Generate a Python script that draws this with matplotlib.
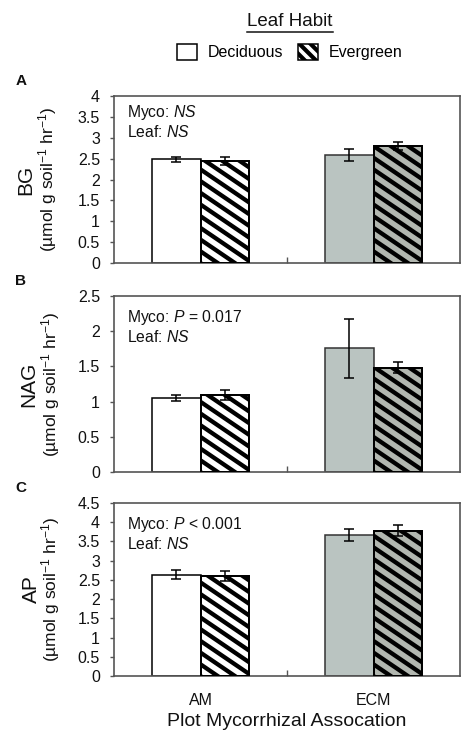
import numpy as np
import matplotlib
matplotlib.use("Agg")
import matplotlib.pyplot as plt
from matplotlib.patches import Patch, Rectangle
from matplotlib.collections import LineCollection
from matplotlib.lines import Line2D

plt.rcParams["font.family"] = ["Liberation Sans", "DejaVu Sans"]
plt.rcParams["mathtext.fontset"] = "custom"
plt.rcParams["mathtext.rm"] = "Liberation Sans"
plt.rcParams["mathtext.it"] = "Liberation Sans:italic"
plt.rcParams["hatch.linewidth"] = 3.0

# data
categories = ["AM", "ECM"]
habits = ["Deciduous", "Evergreen"]
panel_letters = ["A", "B", "C"]
enzymes = ["BG", "NAG", "AP"]
stats_text = [
    ["Myco: $\\mathit{NS}$", "Leaf: $\\mathit{NS}$"],
    ["Myco: $\\mathit{P}$ = 0.017", "Leaf: $\\mathit{NS}$"],
    ["Myco: $\\mathit{P}$ < 0.001", "Leaf: $\\mathit{NS}$"],
]
y_max = [4, 2.5, 4.5]
y_step = [0.5, 0.5, 0.5]

# means / SE: [AM, ECM]
bg_dec = [2.49, 2.59]
bg_dec_se = [0.06, 0.15]
bg_eve = [2.44, 2.80]
bg_eve_se = [0.09, 0.09]

nag_dec = [1.05, 1.76]
nag_dec_se = [0.04, 0.42]
nag_eve = [1.09, 1.48]
nag_eve_se = [0.07, 0.08]

ap_dec = [2.64, 3.67]
ap_dec_se = [0.11, 0.16]
ap_eve = [2.60, 3.78]
ap_eve_se = [0.14, 0.15]

dec_means = [bg_dec, nag_dec, ap_dec]
dec_ses = [bg_dec_se, nag_dec_se, ap_dec_se]
eve_means = [bg_eve, nag_eve, ap_eve]
eve_ses = [bg_eve_se, nag_eve_se, ap_eve_se]

DPI = 100
W, H = 474, 746
fig = plt.figure(figsize=(W / DPI, H / DPI), dpi=DPI)

# axes boxes in pixels: (top, bottom)
boxes = [(96, 263), (296, 472), (503, 676)]
ax_left, ax_right = 114, 460
ylab_x = [(26, 48), (29, 51), (31, 51)]

AM_FILL = "white"
ECM_FILL = "#bac4c1"
ECM_HATCH_FILL = "#b2b7b0"
SPINE = "#555555"
BAR_W = 0.283


def add_stripes(ax, bar, spacing=11.7, slope=0.68, lw_px=4.3):
    """Thick diagonal stripes drawn in pixel space, clipped to the bar."""
    (x0, y0), (x1, y1) = ax.transData.transform(
        [(bar.get_x(), bar.get_y()), (bar.get_x() + bar.get_width(), bar.get_y() + bar.get_height())])
    w = x1 - x0
    segs = []
    c = y0 - 2 * spacing
    while c < y1 + slope * w + 2 * spacing:
        p = np.array([(x0 - 5, c + slope * 5), (x1 + 5, c - slope * (w + 5))])
        segs.append(ax.transData.inverted().transform(p))
        c += spacing
    lc = LineCollection(segs, colors="black", linewidths=lw_px * 72 / DPI, zorder=3)
    ax.add_collection(lc, autolim=False)
    lc.set_clip_path(bar)


x = np.arange(len(categories))
for i in range(3):
    top, bot = boxes[i]
    ax = fig.add_axes([ax_left / W, 1 - bot / H, (ax_right - ax_left) / W, (bot - top) / H])
    ax.set_xlim(-0.5, 1.5)
    ax.set_ylim(0, y_max[i])

    dec_bars = ax.bar(x - BAR_W / 2, dec_means[i], BAR_W, color=[AM_FILL, ECM_FILL],
                      edgecolor=["black", "#333333"], linewidth=1.1, zorder=2)
    eve_bars = ax.bar(x + BAR_W / 2, eve_means[i], BAR_W, color=[AM_FILL, ECM_HATCH_FILL],
                      edgecolor="black", linewidth=1.1, zorder=2)
    for b in eve_bars:
        add_stripes(ax, b)
    # redraw edges on top of stripes
    for b in eve_bars:
        ax.add_patch(Rectangle((b.get_x(), b.get_y()), b.get_width(), b.get_height(),
                               fill=False, edgecolor="black", linewidth=1.4, zorder=4))

    ax.errorbar(x - BAR_W / 2, dec_means[i], yerr=dec_ses[i], fmt="none", ecolor="black",
                elinewidth=1.1, capsize=3.5, capthick=1.1, zorder=5)
    ax.errorbar(x + BAR_W / 2, eve_means[i], yerr=eve_ses[i], fmt="none", ecolor="black",
                elinewidth=1.1, capsize=3.5, capthick=1.1, zorder=5)

    for s in ax.spines.values():
        s.set_color(SPINE)
        s.set_linewidth(1.2)

    yt = np.arange(0, y_max[i] + 1e-9, y_step[i])
    ax.set_yticks(yt)
    ax.set_yticklabels([f"{v:g}" for v in yt])
    ax.tick_params(axis="y", direction="out", length=3, width=1, color=SPINE, pad=7,
                   labelsize=11.5, labelcolor="#111111")
    ax.set_xticks([0.5])
    ax.set_xticklabels([])
    ax.tick_params(axis="x", which="major", direction="in", length=4, width=1, color=SPINE)
    if i == 2:
        ax.set_xticks(x, minor=True)
        ax.set_xticklabels(categories, minor=True)
        ax.tick_params(axis="x", which="minor", length=0, pad=12, labelsize=11.5,
                       labelcolor="#111111")
        ax.set_xlabel("Plot Mycorrhizal Assocation", fontsize=14, labelpad=4, color="#111111")

    ax.text(13 / (ax_right - ax_left), 1 - (17 if i == 0 else 21) / (bot - top), stats_text[i][0],
            transform=ax.transAxes, ha="left", va="center", fontsize=11.3, color="#111111")
    ax.text(13 / (ax_right - ax_left), 1 - (36 if i == 0 else 41) / (bot - top), stats_text[i][1],
            transform=ax.transAxes, ha="left", va="center", fontsize=11.3, color="#111111")

    yc = 1 - (top + bot) / 2 / H
    fig.text(ylab_x[i][0] / W, yc, enzymes[i], rotation=90, ha="center", va="center",
             fontsize=15, color="#111111")
    fig.text(ylab_x[i][1] / W, yc, "(µmol g soil$^{\\mathrm{-1}}$ hr$^{\\mathrm{-1}}$)", rotation=90,
             ha="center", va="center", fontsize=12.5, color="#111111")
    fig.text(21 / W, 1 - (top - 15) / H, panel_letters[i], ha="center", va="center",
             fontsize=11, fontweight="bold", color="#111111")

# legend
fig.text(290 / W, 1 - 22 / H, "Leaf Habit", ha="center", va="center", fontsize=13.5, color="#111111")
fig.add_artist(Line2D([247 / W, 333 / W], [1 - 32 / H, 1 - 32 / H], color="#111111", lw=1.1))
handles = [Patch(facecolor="white", edgecolor="black", linewidth=1.1),
           Patch(facecolor="white", edgecolor="black", linewidth=1.1, hatch="\\\\\\")]
fig.legend(handles, habits, loc="center", bbox_to_anchor=(290 / W, 1 - 52 / H), ncol=2,
           frameon=False, fontsize=11.5, handlelength=1.25, handleheight=1.25,
           handletextpad=0.7, columnspacing=0.9)

fig.savefig("out.png", dpi=DPI)
